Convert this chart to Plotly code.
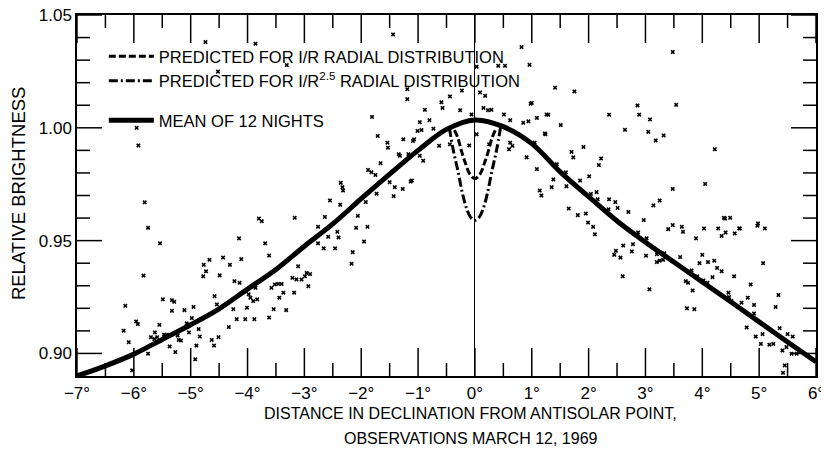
import plotly.graph_objects as go

# ---- data (degrees from antisolar point, relative brightness) ----
mean_x = [-7, -6.5, -6, -5.5, -5, -4.5, -4, -3.5, -3, -2.5, -2, -1.5, -1, -0.5, 0,
          0.5, 1, 1.5, 2, 2.5, 3, 3.5, 4, 4.5, 5, 5.5, 6]
mean_y = [0.8900, 0.8945, 0.8997, 0.9062, 0.9127, 0.9198, 0.9285, 0.9372, 0.9475,
          0.9574, 0.9686, 0.9795, 0.9900, 0.9993, 1.0035, 1.0005, 0.9930, 0.9805,
          0.9695, 0.9587, 0.9493, 0.9405, 0.9317, 0.9229, 0.9140, 0.9051, 0.8963]

r1_x = [-0.36, -0.30, -0.24, -0.17, -0.09, 0, 0.09, 0.17, 0.24, 0.30, 0.36]
r1_y = [0.999, 0.9955, 0.990, 0.9845, 0.9795, 0.9775, 0.9795, 0.9845, 0.990, 0.9955, 0.999]

r25_x = [-0.45, -0.38, -0.30, -0.22, -0.15, -0.08, 0, 0.08, 0.15, 0.22, 0.30, 0.38, 0.45]
r25_y = [1.000, 0.990, 0.981, 0.971, 0.9645, 0.9605, 0.959, 0.9605, 0.9645, 0.971, 0.981, 0.990, 1.000]

obs_x = [
    -5.81, -5.75, -5.54, -5.83, -6.15, -6.18, -6.09, -5.96, -5.93, -6.03, -5.75, -5.70, -5.63,
    -5.64, -5.59, -5.55, -5.49, -5.33, -5.29, -5.33, -5.47, -5.42, -5.37, -5.27, -5.21, -5.23,
    -5.17, -5.11, -4.95, -5.07, -5.03, -4.98, -4.86, -4.84, -4.90, -4.92, -4.77, -4.67, -4.73,
    -4.78, -4.58, -4.54, -4.49, -4.43, -4.31, -4.33, -4.63, -4.59, -4.51, -4.25, -4.19, -4.15,
    -4.11, -4.23, -4.14, -4.04, -4.01, -3.98, -3.95, -3.90, -3.83, -3.88, -3.86, -3.80, -3.75,
    -3.69, -5.95, -5.92, -4.74, -3.86, -3.31, -4.52, -1.44, -1.19,
    -3.62, -3.54, -3.32, -3.44, -3.37, -3.18,
    -1.19, -1.81, -1.71, -1.54, -1.53, -1.34, -1.26, -1.17, -1.09, -1.32, -1.66, -1.88, -1.82,
    -1.75, -1.50, -1.41, -1.27, -1.13, -1.73, -1.43, -1.92, -2.36, -2.33, -2.32, -2.55, -2.37,
    -2.06, -2.64, -3.17, -2.76, -2.09, -1.89, -2.58, -2.42, -2.40, -2.76, -2.66, -2.46, -1.95,
    -2.15, -2.17, -3.62, -3.11, -3.05, -2.96, -2.99, -2.90, -3.21, -3.14, -2.93, -3.52, -3.46,
    -3.40, -3.58,
    0.82, 0.41, 0.53, 0.03, 0.96, -0.44, -0.23, -0.59, -0.57, 0.09, 0.18, 0.15, 0.23, 0.29,
    0.98, -0.88, -0.26, -0.97, -0.80, -1.01, -0.94, -0.73, -0.06, 0.51, 0.62, 0.85, 0.94, 1.09,
    1.26, -1.07, -0.63, -0.44, -0.10, 0.03, 0.25, 0.62, 0.66, 0.60, 1.05, 1.24, -0.97, -0.91,
    0.91, 1.09, -1.11,
    3.48, 1.41, 1.75, 2.86, 3.54, 1.29, 2.36, 2.89, 3.08, 1.51, 2.64, 3.05, 3.18, 3.32, 1.23,
    1.70, 1.73, 1.91, 2.22, 2.18, 1.44, 1.60, 1.38, 1.35, 1.61, 1.85, 2.01, 2.04, 2.14, 2.16,
    2.36, 2.47, 2.51, 2.35, 2.70, 1.65, 1.81, 1.95, 1.99, 2.08, 2.11, 2.97, 2.87, 3.02, 3.48,
    3.14, 3.25, 3.40, 3.48, 3.64, 3.66,
    1.00, 1.14, 1.17, 4.22, 4.05, 4.03, 4.28, 4.40, 4.49, 4.66, 4.98, 5.10,
    3.89, 4.38, 4.41, 4.34, 4.57, 4.65, 4.97, 2.61, 2.78, 2.48, 2.45, 2.56, 2.76, 3.01, 3.20,
    3.33, 3.20, 3.25, 3.31, 3.61, 4.00, 3.95, 4.10, 4.21, 4.26, 4.34, 5.07, 2.60, 3.07, 3.81,
    3.71, 3.75, 3.83, 3.91, 4.02, 4.09, 4.18, 4.56, 4.85, 4.46, 4.47, 4.51, 4.69, 4.80, 4.91,
    4.91, 4.73, 3.73, 3.86, 5.34, 5.29, 4.78, 4.94, 5.06, 5.03, 5.18, 5.25, 5.36, 5.50, 5.59,
    5.41, 5.48, 5.57, 5.66, 5.45, 5.42,
]
obs_y = [
    0.9670, 0.9557, 0.9488, 0.9345, 0.9211, 0.9101, 0.9050, 0.9142, 0.9130, 0.8925, 0.8999,
    0.9072, 0.9093, 0.9064, 0.9072, 0.9127, 0.9240, 0.9236, 0.9229, 0.9189, 0.9083, 0.9083,
    0.9031, 0.9006, 0.9060, 0.9079, 0.9057, 0.9192, 0.9206, 0.9133, 0.9093, 0.9157, 0.9108,
    0.9075, 0.9035, 0.8974, 0.9393, 0.9415, 0.9364, 0.9342, 0.9254, 0.9217, 0.9346, 0.9425,
    0.9393, 0.9117, 0.9060, 0.9035, 0.9072, 0.9196, 0.9152, 0.9510, 0.9418, 0.9320, 0.9313,
    0.9152, 0.9203, 0.9262, 0.9247, 0.9232, 0.9240, 0.9152, 0.9291, 0.9598, 0.9586, 0.9488,
    1.0000, 0.9922, 1.0380, 1.0373, 1.0278, 1.0249, 1.0414, 1.0171,
    0.9159, 0.9196, 0.9192, 0.9247, 0.9269, 0.9269,
    1.0127, 1.0048, 0.9964, 0.9934, 0.9912, 0.9883, 0.9949, 0.9883, 0.9942, 0.9876, 0.9843,
    0.9813, 0.9803, 0.9791, 0.9759, 0.9737, 0.9729, 0.9762, 0.9708, 0.9697, 0.9671, 0.9756,
    0.9737, 0.9722, 0.9678, 0.9659, 0.9610, 0.9605, 0.9601, 0.9561, 0.9557, 0.9561, 0.9517,
    0.9539, 0.9514, 0.9488, 0.9466, 0.9466, 0.9496, 0.9449, 0.9398, 0.9434, 0.9386, 0.9328,
    0.9357, 0.9342, 0.9352, 0.9335, 0.9328, 0.9298, 0.9306, 0.9308, 0.9308, 0.9291,
    1.0358, 1.0275, 1.0275, 1.0271, 1.0279, 1.0139, 1.0165, 1.0113, 1.0088, 1.0157, 1.0142,
    1.0088, 1.0078, 1.0080, 1.0107, 1.0080, 1.0078, 1.0025, 1.0034, 0.9986, 0.9990, 0.9996,
    1.0059, 1.0059, 1.0034, 1.0022, 1.0029, 1.0044, 1.0059, 0.9949, 0.9920, 0.9927, 0.9922,
    0.9971, 0.9927, 0.9934, 0.9920, 0.9905, 0.9934, 0.9971, 0.9876, 0.9854, 0.9869, 0.9817,
    0.9766,
    1.0336, 1.0178, 1.0161, 1.0099, 1.0102, 1.0058, 1.0058, 1.0058, 1.0037, 1.0012, 0.9991,
    0.9982, 0.9944, 0.9966, 0.9975, 0.9893, 0.9869, 0.9915, 0.9864, 0.9835, 0.9839, 0.9803,
    0.9771, 0.9737, 0.9741, 0.9766, 0.9785, 0.9707, 0.9715, 0.9683, 0.9683, 0.9671, 0.9645,
    0.9639, 0.9627, 0.9642, 0.9613, 0.9620, 0.9580, 0.9561, 0.9528, 0.9591, 0.9536, 0.9510,
    0.9729, 0.9656, 0.9678, 0.9551, 0.9569, 0.9561, 0.9539,
    1.0110, 0.9722, 0.9700, 0.9905, 0.9751, 0.9554, 0.9554, 0.9598, 0.9601, 0.9554, 0.9576,
    0.9554,
    0.9510, 0.9601, 0.9536, 0.9521, 0.9532, 0.9554, 0.9566, 0.9478, 0.9484, 0.9455, 0.9437,
    0.9425, 0.9452, 0.9433, 0.9440, 0.9444, 0.9405, 0.9411, 0.9415, 0.9427, 0.9437, 0.9400,
    0.9405, 0.9411, 0.9379, 0.9364, 0.9400, 0.9342, 0.9284, 0.9368, 0.9320, 0.9313, 0.9279,
    0.9342, 0.9323, 0.9313, 0.9338, 0.9342, 0.9306, 0.9269, 0.9250, 0.9232, 0.9225, 0.9247,
    0.9215, 0.9177, 0.9189, 0.9200, 0.9196, 0.9259, 0.9206, 0.9115, 0.9075, 0.9086, 0.9042,
    0.9039, 0.9042, 0.9112, 0.9086, 0.9075, 0.9013, 0.9028, 0.8999, 0.8999, 0.8947, 0.8914,
]

# axis tick positions (data units)
x_major_ticks = [-7, -6, -5, -4, -3, -2, -1, 0, 1, 2, 3, 4, 5, 6]
x_minor_ticks = [-6.5, -5.5, -4.5, -3.5, -2.5, -1.5, -0.5, 0.5, 1.5, 2.5, 3.5, 4.5, 5.5]
x_tick_suffix = "\u00b0"
y_major_ticks = [0.90, 0.95, 1.00, 1.05]
y_minor_ticks = [0.91, 0.92, 0.93, 0.94, 0.96, 0.97, 0.98, 0.99, 1.01, 1.02, 1.03, 1.04]

FONT = "Liberation Sans, Arial, sans-serif"

fig = go.Figure()
fig.add_trace(go.Scatter(
    x=obs_x, y=obs_y, mode="markers", showlegend=False, hoverinfo="skip",
    marker=dict(symbol="x", size=4, color="black", line=dict(width=0)),
))
fig.add_trace(go.Scatter(
    x=r1_x, y=r1_y, mode="lines", name="PREDICTED FOR I/R RADIAL DISTRIBUTION",
    legendgroup="pred",
    line=dict(color="black", width=3, dash="7px,3px", shape="spline"),
))
fig.add_trace(go.Scatter(
    x=r25_x, y=r25_y, mode="lines",
    name="PREDICTED FOR I/R<sup>2.5</sup> RADIAL DISTRIBUTION",
    legendgroup="pred",
    line=dict(color="black", width=3, dash="9px,3px,2px,3px", shape="spline"),
))
fig.add_trace(go.Scatter(
    x=mean_x, y=mean_y, mode="lines", name="MEAN OF 12 NIGHTS", legendgroup="mean",
    line=dict(color="black", width=5, shape="spline"),
))

# tick marks drawn inside the frame on all four sides
tick_line = dict(color="black", width=1.5)
shapes = []
for vals, length in ((x_major_ticks, 28), (x_minor_ticks, 13)):
    for v in vals:
        shapes.append(dict(type="line", xref="x", yref="paper", x0=v, x1=v,
                           ysizemode="pixel", yanchor=0, y0=0, y1=length, line=tick_line))
        shapes.append(dict(type="line", xref="x", yref="paper", x0=v, x1=v,
                           ysizemode="pixel", yanchor=1, y0=0, y1=-length, line=tick_line))
for vals, length in ((y_major_ticks, 25), (y_minor_ticks, 13)):
    for v in vals:
        shapes.append(dict(type="line", xref="paper", yref="y", y0=v, y1=v,
                           xsizemode="pixel", xanchor=0, x0=0, x1=length, line=tick_line))
        shapes.append(dict(type="line", xref="paper", yref="y", y0=v, y1=v,
                           xsizemode="pixel", xanchor=1, x0=0, x1=-length, line=tick_line))

fig.update_layout(
    template="none",
    width=821, height=450,
    margin=dict(l=69, r=13, t=7, b=82),
    paper_bgcolor="white", plot_bgcolor="white",
    font=dict(family=FONT, size=16, color="black"),
    showlegend=True,
    legend=dict(
        x=0.0363, y=0.9335, xanchor="left", yanchor="top",
        bgcolor="rgba(0,0,0,0)", borderwidth=0,
        traceorder="grouped", tracegroupgap=15, itemwidth=45,
        font=dict(family=FONT, size=16.5, color="black"),
    ),
    xaxis=dict(
        range=[-7, 6], tickmode="array", tickvals=x_major_ticks,
        ticktext=[("\u2212" if v < 0 else "") + str(abs(v)) + x_tick_suffix for v in x_major_ticks],
        ticks="", ticklabelstandoff=1, ticklabeloverflow="allow",
        showline=True, linecolor="black", linewidth=1.5, mirror=True,
        showgrid=False, zeroline=True, zerolinecolor="black", zerolinewidth=1,
        tickfont=dict(family=FONT, size=17),
    ),
    yaxis=dict(
        range=[0.89, 1.0500001], tickmode="array", tickvals=y_major_ticks,
        ticktext=["%.2f" % v for v in y_major_ticks],
        ticks="", ticklabelstandoff=0, ticklabeloverflow="allow",
        showline=True, linecolor="black", linewidth=1.5, mirror=True,
        showgrid=False, zeroline=False,
        tickfont=dict(family=FONT, size=17),
    ),
    shapes=shapes,
    annotations=[
        dict(text="RELATIVE BRIGHTNESS", xref="paper", yref="paper", x=-0.0798, y=0.504,
             xanchor="center", yanchor="middle",
             textangle=-90, showarrow=False, font=dict(family=FONT, size=18.5)),
        dict(text="DISTANCE IN DECLINATION FROM ANTISOLAR POINT,", xref="paper",
             yref="paper", x=0.533, y=-0.1025, xanchor="center", yanchor="middle",
             showarrow=False, font=dict(family=FONT, size=16)),
        dict(text="OBSERVATIONS MARCH 12, 1969", xref="paper", yref="paper",
             x=0.533, y=-0.1745, xanchor="center", yanchor="middle",
             showarrow=False, font=dict(family=FONT, size=16)),
    ],
)

fig.write_html("out.html")
